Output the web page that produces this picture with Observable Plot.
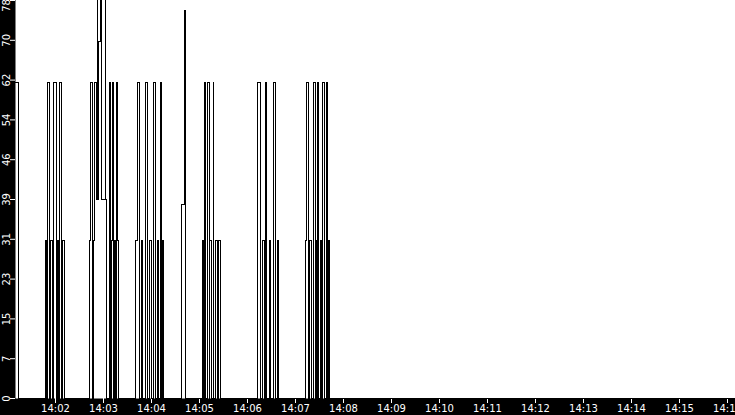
<!DOCTYPE html>
<html><head><meta charset="utf-8">
<script src="https://cdn.jsdelivr.net/npm/d3@7"></script>
<script src="https://cdn.jsdelivr.net/npm/@observablehq/plot@0.6"></script>
<style>body{margin:0;background:#fff;}</style>
</head><body><div id="chart"></div>
<script>
// step-after samples of the signal (time, value)
const sampleTime = [
  "14:01:10","14:01:14",
  "14:01:47","14:01:49","14:01:50","14:01:53","14:01:54","14:01:56","14:01:58","14:02:01",
  "14:02:02","14:02:04","14:02:05","14:02:08","14:02:09","14:02:11",
  "14:02:43","14:02:44","14:02:46","14:02:47","14:02:49","14:02:51","14:02:52","14:02:53",
  "14:02:54","14:02:56","14:02:57","14:03:02","14:03:03","14:03:04","14:03:07","14:03:09",
  "14:03:10","14:03:11","14:03:13","14:03:14","14:03:15","14:03:16","14:03:18","14:03:19",
  "14:03:40","14:03:42","14:03:45","14:03:47","14:03:49","14:03:53","14:03:55","14:03:58",
  "14:04:00","14:04:02","14:04:05","14:04:07","14:04:09","14:04:11","14:04:13","14:04:14","14:04:15",
  "14:04:38","14:04:41","14:04:42",
  "14:05:04","14:05:05","14:05:06","14:05:07","14:05:10","14:05:12","14:05:13","14:05:15",
  "14:05:17","14:05:18","14:05:20","14:05:22","14:05:24","14:05:26",
  "14:06:12","14:06:13","14:06:16","14:06:19","14:06:21","14:06:23","14:06:24","14:06:27",
  "14:06:29","14:06:32","14:06:35","14:06:37","14:06:39",
  "14:07:13","14:07:14","14:07:16","14:07:18","14:07:20","14:07:23","14:07:25","14:07:26",
  "14:07:27","14:07:28","14:07:29","14:07:31","14:07:33","14:07:34","14:07:36","14:07:39",
  "14:07:40","14:07:41","14:07:43",
  "14:16:10"
];
const sampleValue = [
  62,0,
  31,0,62,0,31,0,62,0,
  31,0,62,0,31,0,
  31,62,0,31,62,39,78,39,
  70,78,39,78,39,0,62,0,
  31,62,0,31,0,62,31,0,
  31,62,0,31,0,62,0,31,
  0,62,0,31,0,62,0,31,0,
  38,76,0,
  31,0,62,0,62,0,31,0,
  62,0,31,0,31,0,
  31,62,0,31,0,62,0,31,
  0,62,0,31,0,
  31,62,0,31,0,62,0,31,
  0,62,0,31,0,62,0,62,
  0,31,0,
  0
];
const yTicks = [0, 7.8, 15.6, 23.4, 31.2, 39, 46.8, 54.6, 62.4, 70.2, 78];
const yTickLabels = ["0","7","15","23","31","39","46","54","62","70","78"];
const xTickLabels = ["14:02","14:03","14:04","14:05","14:06","14:07","14:08","14:09","14:10","14:11","14:12","14:13","14:14","14:15","14:16"];
const xDomain = ["14:01:10","14:16:10"];

const parse = s => { const p = s.split(":").map(Number); return new Date(Date.UTC(2000,0,1,p[0],p[1],p[2]||0)); };
const data = sampleTime.map((t,i)=>({time: parse(t), value: sampleValue[i]}));
const lastTick = yTicks[yTicks.length - 1];
const yLabel = d => yTickLabels[yTicks.indexOf(d)];

const chart = Plot.plot({
  width: 735, height: 415,
  marginLeft: 15, marginRight: 0, marginTop: 0, marginBottom: 17,
  style: {background: "black", color: "white", fontFamily: "DejaVu Sans", fontSize: "10px"},
  x: {type: "utc", domain: xDomain.map(parse), label: null},
  y: {domain: [0, 78], label: null},
  marks: [
    Plot.frame({fill: "white", stroke: null, insetTop: -2, insetRight: -2}),
    Plot.axisX(xTickLabels.map(parse), {tickFormat: d3.utcFormat("%H:%M"), tickSize: 5, tickPadding: 1}),
    Plot.axisY(yTicks, {tickFormat: d => d === lastTick ? "" : yLabel(d), tickSize: 5, tickPadding: 1, tickRotate: -90}),
    Plot.axisY([lastTick], {tickFormat: yLabel, tickSize: 0, tickPadding: 6, tickRotate: -90, dy: 5}),
    Plot.line(data, {x: "time", y: "value", curve: "step-after", stroke: "black", strokeWidth: 1, shapeRendering: "crispEdges"})
  ]
});
document.getElementById("chart").appendChild(chart);
</script>
</body></html>
